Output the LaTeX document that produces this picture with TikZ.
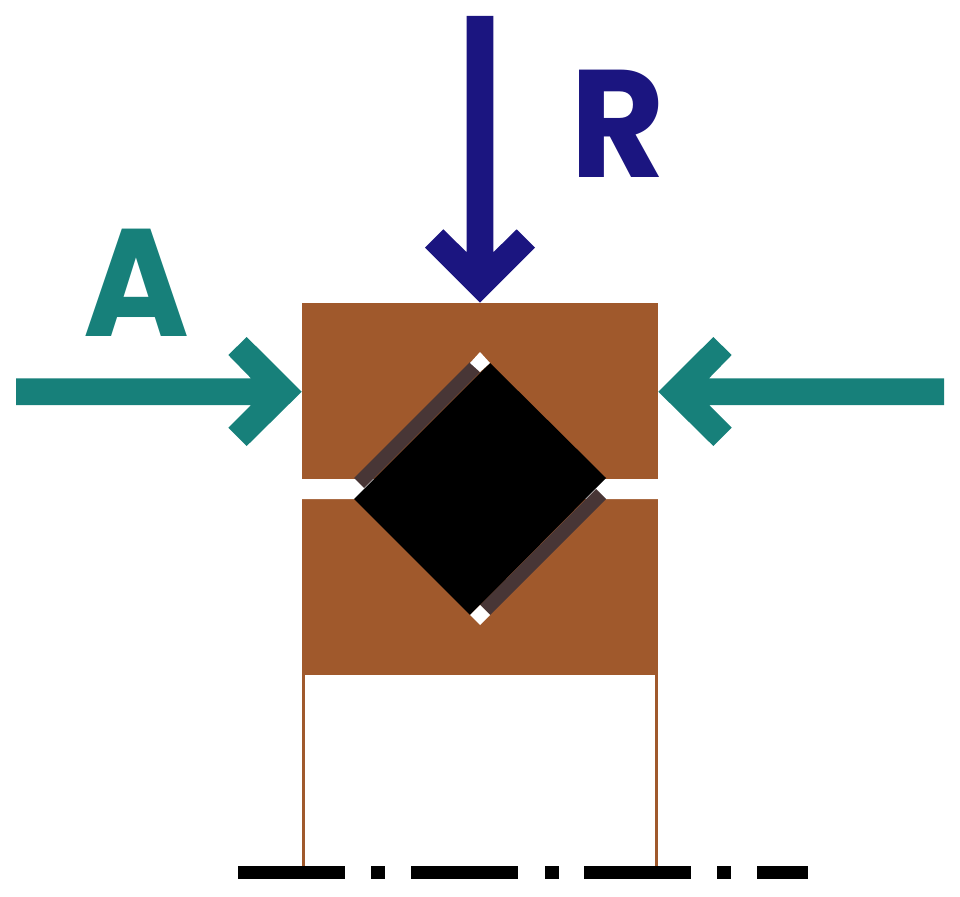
\documentclass[tikz,border=0pt]{standalone}
\usepackage{fontspec}
\setmainfont{Poppins}
\definecolor{brownc}{HTML}{A0592C}
\definecolor{tealc}{HTML}{17807A}
\definecolor{navyc}{HTML}{1B1580}
\definecolor{darkc}{HTML}{483636}
\tikzset{
  axisdash/.style={fill=black,draw=none},
  letterA/.style={inner sep=0pt,anchor=base,text=tealc,xscale=0.94,transform shape,font=\fontsize{153}{153}\selectfont\bfseries},
  letterR/.style={inner sep=0pt,anchor=base,text=navyc,xscale=0.95,transform shape,font=\fontsize{153}{153}\selectfont\bfseries}
}
\begin{document}
\begin{tikzpicture}[x=1pt,y=-1pt]
\useasboundingbox (0,0) rectangle (960,896);
% extension lines
\fill[brownc] (302,670) rectangle (305,866);
\fill[brownc] (655,670) rectangle (658,866);
% bearing rings
\fill[brownc] (302,303) rectangle (658,479);
\fill[brownc] (302,499) rectangle (658,675);
% gaps and rolling element
\fill[white] (300,479) -- (354,479) -- (364,488) -- (354,499) -- (300,499) -- cycle;
\fill[white] (660,479) -- (606,479) -- (596,489) -- (606,499) -- (660,499) -- cycle;
\fill[darkc] (354,478) -- (470,362) -- (480,372) -- (364,488) -- cycle;
\fill[darkc] (606,499) -- (596,489) -- (480,605) -- (490,615) -- cycle;
\fill[black] (490,363) -- (606,478) -- (470,615) -- (354,499) -- cycle;
\fill[white] (480,352) -- (490,363) -- (480,372) -- (470,363) -- cycle;
\fill[white] (480,605) -- (490,615) -- (480,625) -- (470,615) -- cycle;
% arrows
\fill[navyc] (466.7,16) -- (493.3,16) -- (493.3,252.3) -- (516.7,229.3) -- (535,247.7) -- (480,302.7) -- (425,247.7) -- (443.3,229.3) -- (466.7,252.3) -- cycle;
\fill[tealc] (16,378.3) -- (251,378.3) -- (228.3,355) -- (246.7,337) -- (301.7,391.7) -- (246.7,446) -- (228.3,427.7) -- (251,405) -- (16,405) -- cycle;
\fill[tealc] (944,378.3) -- (709,378.3) -- (731.7,355) -- (713.3,337) -- (658.3,391.7) -- (713.3,446) -- (731.7,427.7) -- (709,405) -- (944,405) -- cycle;
% labels
\node[letterA] (labA) at (136,336) {A};
\node[letterR] (labR) at (618,178) {R};
% centre line
\fill[axisdash] (238,866) rectangle (345,879);
\fill[axisdash] (371,866) rectangle (385,879);
\fill[axisdash] (411,866) rectangle (518,879);
\fill[axisdash] (545,866) rectangle (559,879);
\fill[axisdash] (584,866) rectangle (691,879);
\fill[axisdash] (717,866) rectangle (731,879);
\fill[axisdash] (757,866) rectangle (808,879);
\end{tikzpicture}
\end{document}
